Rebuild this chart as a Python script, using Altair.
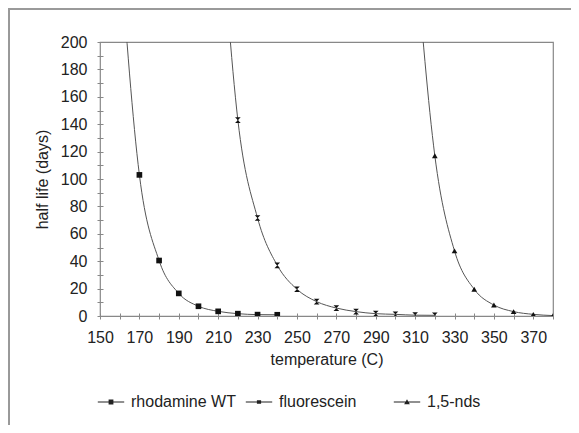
import altair as alt
import pandas as pd

# ---- data ----
series = ["rhodamine WT", "fluorescein", "1,5-nds"]

temp_rwt = [160, 170, 180, 190, 200, 210, 220, 230, 240]
life_rwt = [270, 103, 40.5, 16.5, 7.1, 3.4, 1.7, 1.0, 0.9]

temp_fl = [210, 220, 230, 240, 250, 260, 270, 280, 290, 300, 310, 320]
life_fl = [320, 143, 71.5, 37, 19.5, 10.5, 5.8, 3.2, 1.7, 1.2, 0.6, 0.5]

temp_nds = [310, 320, 330, 340, 350, 360, 370, 380]
life_nds = [270, 117, 47.5, 19.5, 8, 3.2, 1.2, 0.3]

x_ticks = list(range(150, 381, 10))
y_ticks = list(range(0, 201, 10))

rows = []
for name, ts, vs in zip(series, [temp_rwt, temp_fl, temp_nds], [life_rwt, life_fl, life_nds]):
    for t, v in zip(ts, vs):
        rows.append({"series": name, "temperature": t, "life": v})
df = pd.DataFrame(rows)

marker_paths = ["M-1,-1H1V1H-1Z", "M-1,-1H1L-1,1H1Z", "triangle-up"]
# legend symbols: a thin bar (the line) plus the marker
bar = "M-4.4,-0.14L4.4,-0.14L4.4,0.14L-4.4,0.14Z"
legend_paths = [
    bar + "M-0.8,-0.8L0.8,-0.8L0.8,0.8L-0.8,0.8Z",
    bar + "M-0.7,-0.6L0.7,-0.6L0.7,0.6L-0.7,0.6Z",
    bar + "M0,-0.9L0.95,0.75L-0.95,0.75Z",
]

FONT = "Liberation Sans"
TXT = "#222222"
FS = 16

x_enc = alt.X(
    "temperature:Q",
    scale=alt.Scale(domain=[150, 380], nice=False, zero=False),
    axis=alt.Axis(
        values=x_ticks, tickCount=40,
        labelExpr="datum.value % 20 == 10 ? datum.label : ''",
        title="temperature (C)",
        domain=False, grid=False, offset=-3, tickSize=6, tickColor="#888888",
        labelPadding=10, labelFontSize=FS, labelFont=FONT, labelColor=TXT,
        labelOverlap=False, labelFlush=False,
        titleFontSize=FS, titleFont=FONT, titleFontWeight="normal", titleColor=TXT,
        titleBaseline="alphabetic", titleY=51,
    ),
)
y_enc = alt.Y(
    "life:Q",
    scale=alt.Scale(domain=[0, 200], nice=False),
    axis=alt.Axis(
        values=y_ticks, tickCount=40,
        labelExpr="datum.value % 20 == 0 ? datum.label : ''",
        title="half life (days)",
        domain=False, grid=False, offset=-3, tickSize=6, tickColor="#888888",
        labelPadding=10, labelFontSize=FS, labelFont=FONT, labelColor=TXT,
        labelOverlap=False, labelFlush=False,
        titleFontSize=FS, titleFont=FONT, titleFontWeight="normal", titleColor=TXT,
        titleBaseline="alphabetic", titleX=-56, titleY=137, titleAngle=270,
    ),
)

base = alt.Chart(df)

lines = base.mark_line(interpolate="monotone", clip=True, color="#555555", strokeWidth=1).encode(
    x=x_enc, y=y_enc, detail="series:N"
)

points = base.mark_point(filled=True, clip=True, color="#111111", size=32, opacity=1).encode(
    x="temperature:Q",
    y="life:Q",
    shape=alt.Shape("series:N", scale=alt.Scale(domain=series, range=marker_paths), legend=None),
)

legend_layer = base.transform_filter("false").mark_point(
    filled=True, color="#222222", size=36, opacity=1
).encode(
    shape=alt.Shape(
        "series:N",
        scale=alt.Scale(domain=series, range=legend_paths),
        legend=alt.Legend(
            title=None, orient="none", direction="horizontal", legendX=3, legendY=352,
            labelFontSize=FS, labelFont=FONT, labelColor=TXT, symbolSize=36,
            symbolFillColor="#222222",
            labelOffset=12, columnPadding=6, gridAlign="all", padding=0,
        ),
    )
)

frame_top = alt.Chart(df).mark_rule(color="#9a9a9a", strokeWidth=1.5).encode(
    x=alt.value(-92), x2=alt.value(471), y=alt.value(-33.3)
)
frame_left = alt.Chart(df).mark_rule(color="#9a9a9a", strokeWidth=1.5).encode(
    x=alt.value(-91.3), y=alt.value(-34), y2=alt.value(383)
)

chart = alt.layer(frame_top, frame_left, lines, points, legend_layer).resolve_scale(
    shape="independent"
).properties(
    width=453, height=274,
    autosize=alt.AutoSizeParams(type="none"),
    padding={"left": 92, "top": 34, "right": 18, "bottom": 109},
    background="white",
).configure_view(stroke="#888888", strokeWidth=1.2)

chart.save("out.html", embed_options={"renderer": "svg", "actions": False})
